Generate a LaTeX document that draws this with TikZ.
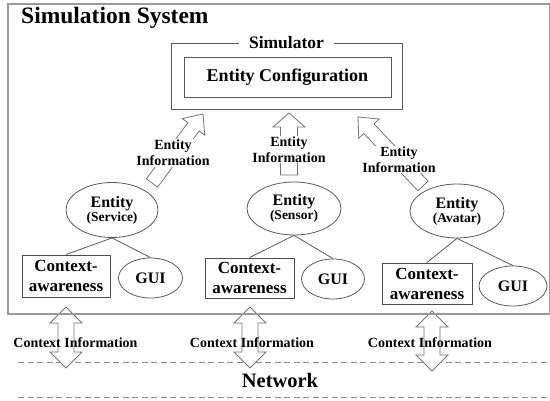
\documentclass[tikz,border=0pt]{standalone}
\usepackage{fontspec}
\setmainfont{Liberation Serif}
\usetikzlibrary{calc,shapes.geometric}
\tikzset{
  frame/.style={draw=black!40, line width=1.8pt, inner sep=0pt},
  boxline/.style={draw=black!65, line width=0.9pt, inner sep=0pt},
  ctxbox/.style={draw=black!70, line width=0.9pt, inner sep=0pt, align=center,
    font=\fontsize{17}{20}\selectfont\bfseries},
  ell/.style={ellipse, draw=black!65, line width=0.8pt, inner sep=0pt, align=center},
  barrow/.style={draw=black!55, fill=white, line width=0.8pt, line join=miter},
  link/.style={draw=black!65, line width=0.8pt},
  lbl/.style={font=\fontsize{14}{16}\selectfont\bfseries, align=center, inner sep=1pt},
  netdash/.style={draw=black!45, line width=0.9pt, dash pattern=on 6pt off 3.5pt},
}
% block arrow: tail, tip, shaft half width, head half width, head length
\newcommand\blkarrow[5]{%
  \path coordinate (bah) at ($(#2)!#5!(#1)$);
  \draw[barrow] ($(#1)!#3!90:(#2)$) -- ($(bah)!#3!90:(#2)$) -- ($(bah)!#4!90:(#2)$)
    -- (#2) -- ($(bah)!#4!-90:(#2)$) -- ($(bah)!#3!-90:(#2)$) -- ($(#1)!#3!-90:(#2)$) -- cycle;}
% double block arrow: end A, end B, shaft half width, head half width, head length
\newcommand\dblarrow[5]{%
  \path coordinate (dha) at ($(#1)!#5!(#2)$) coordinate (dhb) at ($(#2)!#5!(#1)$);
  \draw[barrow] (#1) -- ($(dha)!#4!90:(#2)$) -- ($(dha)!#3!90:(#2)$) -- ($(dhb)!#3!90:(#2)$)
    -- ($(dhb)!#4!90:(#2)$) -- (#2) -- ($(dhb)!#4!-90:(#2)$) -- ($(dhb)!#3!-90:(#2)$)
    -- ($(dha)!#3!-90:(#2)$) -- ($(dha)!#4!-90:(#2)$) -- cycle;}
\begin{document}
\begin{tikzpicture}[x=1pt,y=-1pt]
\useasboundingbox (0,0) rectangle (550,401);

% network dashed lines
\coordinate (n1a) at (18,362); \coordinate (n1b) at (550,362);
\coordinate (n2a) at (18,397); \coordinate (n2b) at (550,397);
\draw[netdash] (n1a) -- (n1b);
\draw[netdash] (n2a) -- (n2b);
\node[font=\fontsize{20.5}{22}\selectfont\bfseries, inner sep=0pt] (net) at (280,380) {Network};

% context information double arrows
\coordinate (c1a) at (66,307);  \coordinate (c1b) at (66,368);
\coordinate (c2a) at (250,307); \coordinate (c2b) at (250,368);
\coordinate (c3a) at (432,311); \coordinate (c3b) at (432,371);
\dblarrow{c1a}{c1b}{8pt}{16pt}{16pt}
\dblarrow{c2a}{c2b}{8pt}{16pt}{16pt}
\dblarrow{c3a}{c3b}{8pt}{16pt}{16pt}
\node[lbl] (ci1) at (75.5,343) {Context Information};
\node[lbl] (ci2) at (252,343) {Context Information};
\node[lbl] (ci3) at (430,343) {Context Information};

% system frame
\node[frame, minimum width=542pt, minimum height=310pt, anchor=north west] (sys) at (7,3) {};
\node[anchor=base west, font=\fontsize{23.5}{26}\selectfont\bfseries, inner sep=0pt] (title) at (21,24) {Simulation System};

% simulator
\node[boxline, minimum width=231pt, minimum height=66pt] (sim) at (286.5,76) {};
\node[fill=white, inner xsep=10pt, inner ysep=1pt, font=\fontsize{17.5}{19}\selectfont\bfseries] (simt) at (sim.north) {Simulator};
\node[boxline, minimum width=207pt, minimum height=40pt, font=\fontsize{18}{20}\selectfont\bfseries] (cfg) at (287.5,77) {Entity Configuration};

% entity information arrows
\coordinate (e1s) at (152,183); \coordinate (e1t) at (203,114);
\coordinate (e2s) at (289,175); \coordinate (e2t) at (289,113);
\coordinate (e3s) at (423,186); \coordinate (e3t) at (358,117);
\blkarrow{e1s}{e1t}{7pt}{14pt}{16pt}
\blkarrow{e2s}{e2t}{8.5pt}{16pt}{14pt}
\blkarrow{e3s}{e3t}{7pt}{14pt}{16pt}
\node[lbl, fill=white] (ei1) at (173,153) {Entity\\Information};
\node[lbl, fill=white] (ei2) at (289,149.5) {Entity\\Information};
\node[lbl, fill=white] (ei3) at (399,159.5) {Entity\\Information};

% entities
\node[ell, minimum width=92pt, minimum height=55pt] (ent1) at (112,210)
  {{\fontsize{16}{20}\selectfont\bfseries Entity}\\{\fontsize{13.5}{20}\selectfont\bfseries (Service)}};
\node[ell, minimum width=94pt, minimum height=53pt] (ent2) at (294,208.5)
  {{\fontsize{16}{20}\selectfont\bfseries Entity}\\{\fontsize{13.5}{20}\selectfont\bfseries (Sensor)}};
\node[ell, minimum width=94pt, minimum height=54pt] (ent3) at (457,211)
  {{\fontsize{16}{20}\selectfont\bfseries Entity}\\{\fontsize{13.5}{20}\selectfont\bfseries (Avatar)}};

% context-awareness boxes
\node[ctxbox, minimum width=88pt, minimum height=42pt] (ctx1) at (66,276) {Context-\\awareness};
\node[ctxbox, minimum width=89pt, minimum height=40pt] (ctx2) at (249.5,278) {Context-\\awareness};
\node[ctxbox, minimum width=90pt, minimum height=41pt] (ctx3) at (427,283.5) {Context-\\awareness};

% GUIs
\node[ell, minimum width=64pt, minimum height=40pt, font=\fontsize{16}{18}\selectfont\bfseries] (gui1) at (150.5,278) {GUI};
\node[ell, minimum width=63pt, minimum height=40pt, font=\fontsize{16}{18}\selectfont\bfseries] (gui2) at (333,279) {GUI};
\node[ell, minimum width=68pt, minimum height=40pt, font=\fontsize{16}{18}\selectfont\bfseries] (gui3) at (513,286) {GUI};

% links
\draw[link] (ent1.south) -- (ctx1.north);
\draw[link] (ent1.south) -- (gui1.north);
\draw[link] (ent2.south) -- (ctx2.north);
\draw[link] (ent2.south) -- (gui2.north);
\draw[link] (ent3.south) -- (ctx3.north);
\draw[link] (ent3.south) -- (gui3.north);
\end{tikzpicture}
\end{document}
